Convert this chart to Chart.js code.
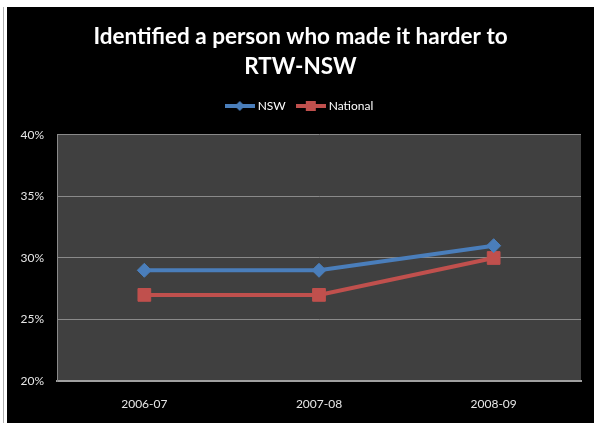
<!DOCTYPE html>
<html>
<head>
<meta charset="utf-8">
<script src="https://cdn.jsdelivr.net/npm/chart.js@4.4.0/dist/chart.umd.min.js"></script>
<style>
  html, body { margin: 0; padding: 0; background: #fff; }
  #edge { position: absolute; left: 3px; top: 7px; width: 1px; height: 416px; background: #b0b0b0; }
  #frame { position: absolute; left: 7px; top: 7px; width: 587px; height: 416px; background: #000; }
</style>
</head>
<body>
<div id="edge"></div>
<div id="frame"><canvas id="chart" width="587" height="416"></canvas></div>
<script>
const years = ['2006-07', '2007-08', '2008-09'];
const nswValues = [29, 29, 31];
const nationalValues = [27, 27, 30];
const yTicks = [20, 25, 30, 35, 40];

const blue = '#4a7ebb';
const red = '#c0504d';

// legend swatch: a short line with the marker on it
function swatch(color, shape) {
    const c = document.createElement('canvas');
    c.width = 30; c.height = 12;
    const g = c.getContext('2d');
    g.strokeStyle = color;
    g.lineWidth = 4;
    g.beginPath(); g.moveTo(0, 6); g.lineTo(30, 6); g.stroke();
    g.fillStyle = color;
    if (shape === 'diamond') {
        g.beginPath(); g.moveTo(15, 1); g.lineTo(20, 6); g.lineTo(15, 11); g.lineTo(10, 6); g.closePath(); g.fill();
    } else {
        g.fillRect(10, 1, 10, 10);
    }
    return c;
}

const plotBackground = {
    id: 'plotBackground',
    afterInit(chart) {
        // a bit more room under the legend
        const legend = chart.legend;
        const fit = legend.fit.bind(legend);
        legend.fit = function() { fit(); this.height += 13; };
    },
    beforeDraw(chart) {
        const a = chart.chartArea;
        const ctx = chart.ctx;
        ctx.save();
        ctx.fillStyle = '#404040';
        ctx.fillRect(a.left, a.top, a.right - a.left, a.bottom - a.top);
        ctx.restore();
    }
};

const font = "Lato, 'Open Sans', sans-serif";

new Chart(document.getElementById('chart'), {
    type: 'line',
    data: {
        labels: years,
        datasets: [
            {
                label: 'NSW',
                data: nswValues,
                borderColor: blue,
                backgroundColor: blue,
                borderWidth: 4,
                pointStyle: 'rectRot',
                pointRadius: 7,
                pointHoverRadius: 7,
                pointBorderWidth: 1,
                tension: 0
            },
            {
                label: 'National',
                data: nationalValues,
                borderColor: red,
                backgroundColor: red,
                borderWidth: 4,
                pointStyle: 'rect',
                pointRadius: 9,
                pointHoverRadius: 9,
                pointBorderWidth: 1,
                tension: 0
            }
        ]
    },
    options: {
        responsive: false,
        animation: false,
        layout: { padding: 0 },
        plugins: {
            title: {
                display: true,
                text: ['Identified a person who made it harder to', 'RTW-NSW'],
                color: '#ffffff',
                font: { family: font, size: 22.5, weight: 'bold', lineHeight: 1.333 },
                padding: { top: 15, bottom: 5 }
            },
            legend: {
                display: true,
                labels: {
                    color: '#ffffff',
                    font: { family: font, size: 12 },
                    usePointStyle: true,
                    pointStyleWidth: 24,
                    padding: 13,
                    generateLabels: () => [
                        { text: 'NSW', pointStyle: swatch(blue, 'diamond'), fontColor: '#ffffff', datasetIndex: 0 },
                        { text: 'National', pointStyle: swatch(red, 'square'), fontColor: '#ffffff', datasetIndex: 1 }
                    ]
                }
            },
            tooltip: { enabled: false }
        },
        scales: {
            x: {
                offset: true,
                grid: { display: false },
                border: { display: true, color: '#a0a0a0', width: 2 },
                ticks: { color: '#e6e6e6', font: { family: font, size: 12 }, padding: 8 },
                afterFit(scale) { scale.height = 42; }
            },
            y: {
                min: 20,
                max: 40,
                afterBuildTicks(scale) { scale.ticks = yTicks.map(v => ({ value: v })); },
                grid: { color: '#8a8a8a', lineWidth: 1, drawTicks: false },
                border: { display: true, color: '#8a8a8a' },
                ticks: {
                    color: '#e6e6e6',
                    font: { family: font, size: 12 },
                    padding: 13,
                    callback: v => v + '%'
                },
                afterFit(scale) { scale.width = 50; }
            },
            // empty strip on the right so the title stays centred on the whole frame
            spacer: {
                type: 'linear',
                position: 'right',
                display: true,
                grid: { display: false },
                border: { display: false },
                ticks: { display: false },
                afterFit(scale) { scale.width = 13; }
            }
        }
    },
    plugins: [plotBackground]
});
</script>
</body>
</html>
